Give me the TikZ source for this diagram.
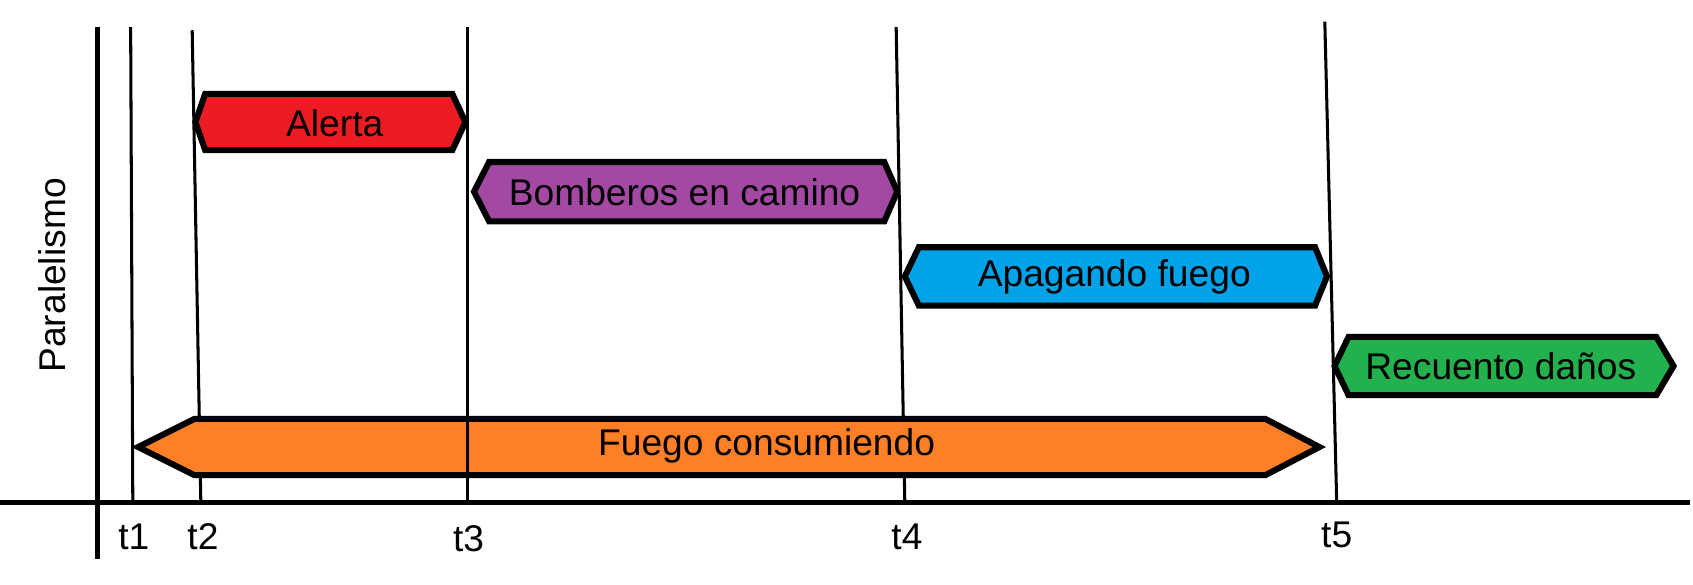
\documentclass[tikz,border=0pt]{standalone}
\usepackage{fontspec}
\setmainfont{Liberation Sans}
\usepackage{tikz}
\definecolor{alertared}{HTML}{ED1C24}
\definecolor{bomberospurple}{HTML}{A349A4}
\definecolor{apagandoblue}{HTML}{00A2E8}
\definecolor{recuentogreen}{HTML}{22B14C}
\definecolor{fuegoorange}{HTML}{FF7F27}
\tikzset{
  phaseline/.style={line width=1.6pt, line join=miter},
  timeline/.style={line width=0.8pt},
  label/.style={font=\fontsize{9.8}{12}\selectfont, inner sep=0pt}
}
% #1 colour, #2 left tip, #3 left corner, #4 right corner, #5 right tip, #6 top, #7 bottom
\newcommand{\phasebar}[7]{
  \draw[phaseline, fill=#1] (#2,{(#6+#7)/2}) -- (#3,#6) -- (#4,#6) -- (#5,{(#6+#7)/2}) -- (#4,#7) -- (#3,#7) -- cycle;
}
\begin{document}
\begin{tikzpicture}[x=0.1mm, y=-0.1mm]
\useasboundingbox (0,0) rectangle (1568,541);
% axes
\draw[line width=1.4pt] (90,25) -- (90,518);
\draw[line width=1.3pt] (0,465) -- (1565,465);
\node[label, rotate=90] (paralelismo) at (48,255) {Paralelismo};
% instants
\coordinate (t1top) at (121,25);  \coordinate (t1bot) at (123,465);
\coordinate (t2top) at (178,28);  \coordinate (t2bot) at (186,465);
\coordinate (t3top) at (433,25);  \coordinate (t3bot) at (433,465);
\coordinate (t4top) at (830,25);  \coordinate (t4bot) at (838,465);
\coordinate (t5top) at (1227,20); \coordinate (t5bot) at (1238,465);
\foreach \t in {1,2,4,5}
  \draw[timeline] (t\t top) -- (t\t bot);
\node[label] (t1) at (124,497) {t1};
\node[label] (t2) at (188,497) {t2};
\node[label] (t3) at (434,499) {t3};
\node[label] (t4) at (840,497) {t4};
\node[label] (t5) at (1238,495) {t5};
% phases
\phasebar{alertared}{181}{190}{419}{431}{87}{139}
\node[label] (alerta) at (310,114) {Alerta};
\phasebar{bomberospurple}{439}{453}{819}{831}{150}{205}
\node[label] (bomberos) at (634,178) {Bomberos en camino};
\phasebar{apagandoblue}{838}{851}{1218}{1229}{229}{283}
\node[label] (apagando) at (1032,256) {Apagando fuego};
\phasebar{recuentogreen}{1236}{1249}{1534}{1550}{312}{366}
\node[label] (recuento) at (1390,339) {Recuento daños};
\phasebar{fuegoorange}{128}{180}{1172}{1222}{388}{440}
\node[label] (fuego) at (710,413) {Fuego consumiendo};
\draw[timeline] (t3top) -- (t3bot);
\end{tikzpicture}
\end{document}
